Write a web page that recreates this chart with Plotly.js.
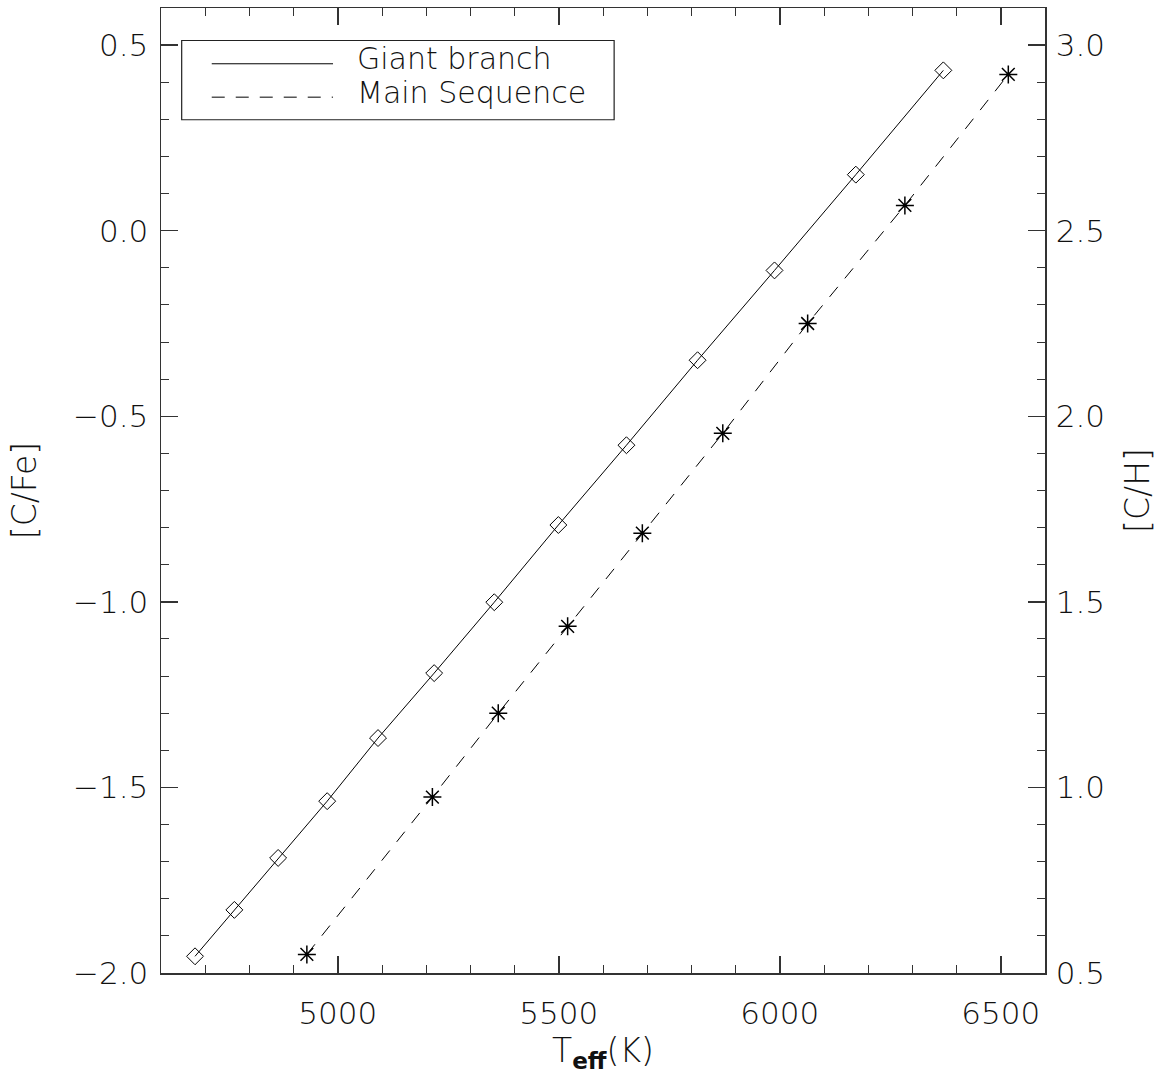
<!DOCTYPE html>
<html>
<head>
<meta charset="utf-8">
<script src="https://cdn.plot.ly/plotly-3.0.1.min.js"></script>
<style>html,body{margin:0;padding:0;background:#fff;}#chart{width:1158px;height:1084px;}</style>
</head>
<body>
<div id="chart"></div>
<script>
// Giant branch: Teff (K) and [C/Fe]
const giantTeff = [4677, 4766, 4865, 4976, 5091, 5218, 5354, 5499, 5653, 5814, 5988, 6172, 6370];
const giantCFe  = [-1.955, -1.83, -1.69, -1.537, -1.367, -1.192, -1.001, -0.793, -0.578, -0.349, -0.107, 0.151, 0.432];
// Main sequence: Teff (K) and [C/Fe]
const msTeff = [4930, 5214, 5363, 5520, 5689, 5871, 6063, 6283, 6517];
const msCFe  = [-1.95, -1.526, -1.30, -1.066, -0.815, -0.546, -0.25, 0.068, 0.421];

const legendNames = ["Giant branch", "Main Sequence"];
const xTitle = "T<sub><b>eff</b></sub>(K)";
const yTitle = "[C/Fe]";
const y2Title = "[C/H]";

const FONT = "DejaVu Sans";
const TXT = "#111";
const fnt = {family: FONT, size: 31, color: TXT, weight: 200};
const legFnt = {family: FONT, size: 30, color: TXT, weight: 200};
const titleFnt = {family: FONT, size: 33, color: TXT, weight: 200};

const traces = [
  {x: giantTeff, y: giantCFe, mode: "lines+markers", name: legendNames[0],
   line: {color: "#000", width: 1, dash: "solid"},
   marker: {symbol: "diamond-open", size: 13, color: "#000", line: {width: 1, color: "#000"}},
   showlegend: false, hoverinfo: "x+y"},
  {x: msTeff, y: msCFe, mode: "lines+markers", name: legendNames[1],
   line: {color: "#000", width: 1, dash: "13px,11px"},
   marker: {symbol: "asterisk-open", size: 15, color: "#000", line: {width: 1.5, color: "#000"}},
   showlegend: false, hoverinfo: "x+y"},
  {x: [], y: [], xaxis: "x", yaxis: "y2", mode: "markers", showlegend: false, hoverinfo: "skip"}
];

const axisCommon = {
  showgrid: false, zeroline: false, showline: true, linecolor: "#333", linewidth: 1.5,
  ticks: "inside", ticklen: 17, tickwidth: 1.5, tickcolor: "#333",
  tickfont: fnt
};

const layout = {
  width: 1158, height: 1084,
  margin: {l: 161, r: 113, t: 8, b: 111, pad: 0},
  paper_bgcolor: "#fff", plot_bgcolor: "#fff",
  font: fnt,
  xaxis: Object.assign({}, axisCommon, {
    range: [4600, 6600], dtick: 500, tick0: 0, mirror: "ticks",
    ticklabelstandoff: 12,
    minor: {dtick: 100, ticks: "inside", ticklen: 8, tickwidth: 1, tickcolor: "#333"},
    title: {text: xTitle, font: titleFnt, standoff: 0}
  }),
  yaxis: Object.assign({}, axisCommon, {
    range: [-2.0, 0.6], dtick: 0.5, tick0: 0, tickformat: ".1f",
    ticklabelstandoff: 5,
    minor: {dtick: 0.1, ticks: "inside", ticklen: 8, tickwidth: 1, tickcolor: "#333"},
    title: {text: yTitle, font: titleFnt, standoff: 26}
  }),
  yaxis2: Object.assign({}, axisCommon, {
    overlaying: "y", side: "right", anchor: "x",
    range: [0.5, 3.1], dtick: 0.5, tick0: 0, tickformat: ".1f",
    ticklabelstandoff: 3,
    minor: {dtick: 0.1, ticks: "inside", ticklen: 8, tickwidth: 1, tickcolor: "#333"},
    title: {text: y2Title, font: titleFnt, standoff: 22}
  }),
  shapes: [
    {type: "rect", xref: "paper", yref: "paper", x0: 0.0234, x1: 0.5126, y0: 0.8842, y1: 0.9663,
     line: {color: "#222", width: 1.2}, fillcolor: "rgba(0,0,0,0)"},
    {type: "line", xref: "paper", yref: "paper", x0: 0.0574, x1: 0.1946, y0: 0.9422, y1: 0.9422,
     line: {color: "#000", width: 1}},
    {type: "line", xref: "paper", yref: "paper", x0: 0.0574, x1: 0.1946, y0: 0.9076, y1: 0.9076,
     line: {color: "#000", width: 1, dash: "13px,11px"}}
  ],
  annotations: [
    {xref: "paper", yref: "paper", x: 0.2195, y: 0.9475, xanchor: "left", yanchor: "middle",
     text: legendNames[0], showarrow: false, font: legFnt},
    {xref: "paper", yref: "paper", x: 0.2195, y: 0.9128, xanchor: "left", yanchor: "middle",
     text: legendNames[1], showarrow: false, font: legFnt}
  ]
};

Plotly.newPlot("chart", traces, layout, {displayModeBar: false, staticPlot: true});
</script>
</body>
</html>
